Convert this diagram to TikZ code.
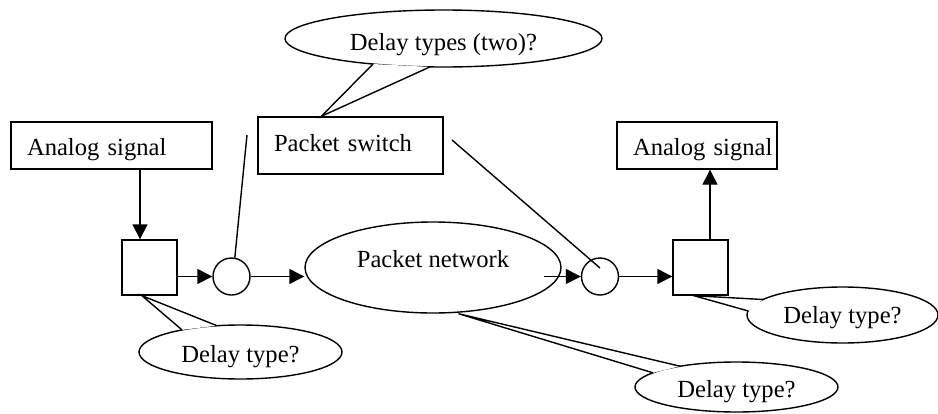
\documentclass[tikz,border=0pt]{standalone}
\usepackage{fontspec}
\setmainfont{Liberation Serif}
\usetikzlibrary{arrows.meta,shapes.geometric}

\tikzset{
  sigbox/.style={draw,inner xsep=0pt,text width=#1,align=left,minimum height=23.5pt,
    text height=12.8pt,text depth=2.65pt,execute at begin node={\hspace*{8pt}}},
  unit/.style={draw,minimum size=27.5pt,inner sep=0pt},
  hop/.style={circle,draw,minimum size=18.5pt,inner sep=0pt},
  bubble/.style={ellipse,draw,fill=white,inner sep=0pt,text depth=2.65pt}
}

\begin{document}
\begin{tikzpicture}[x=0.5pt,y=-0.5pt,line width=0.7pt,>={Triangle[length=7.5pt,width=7.5pt]},
  every node/.style={font=\fontsize{12.3}{14}\selectfont}]
  \useasboundingbox (0,0) rectangle (938,413);
  % boxes
  \node[sigbox=100.5pt] (siga) at (111.5,145.5) {Analog signal};
  \node[sigbox=92.5pt,minimum height=28.5pt,text height=8.3pt] (sw) at (350.5,145.5) {Packet switch};
  \node[sigbox=80pt] (sigb) at (697,145.5) {Analog signal};
  \node[unit] (sqa) at (149.5,267.5) {};
  \node[hop] (ca) at (231.5,276.5) {};
  \node[ellipse,draw,minimum width=128pt,minimum height=45.5pt,inner sep=0pt,
    text height=8.3pt,text depth=8.15pt] (net) at (433,267.5) {Packet network};
  \node[hop] (cb) at (600,276.5) {};
  \node[unit] (sqb) at (700.5,267.5) {};
  \coordinate (ina) at ([xshift=-4.75pt]sqa.north);
  \coordinate (outb) at ([xshift=4.75pt]sqb.north);
  \coordinate (netout) at (544,276.5);
  \coordinate (swin) at (247,135);
  \coordinate (swout) at (452,140);
  \coordinate (swend) at (600,268);
  % signal path
  \draw [->] (ina |- siga.south) -- (ina);
  \draw [->] (sqa.east |- ca) -- (ca.west);
  \draw [->] (ca.east) -- (ca -| net.west);
  \draw [->] (netout) -- (cb.west);
  \draw [->] (cb.east) -- (cb -| sqb.west);
  \draw [->] (outb) -- (outb |- sigb.south);
  \draw (ca.80) -- (swin);
  \draw (swout) -- (swend);
  % callouts
  \node[bubble,minimum width=158.5pt,minimum height=28.5pt,text height=14.8pt] (dtop) at (443.5,38.5) {Delay types (two)?};
  \coordinate (tiptop) at ([xshift=32pt]sw.north west);
  \coordinate (dtopa) at (373,64);
  \coordinate (dtopb) at (430,66.9);
  \draw [fill=white] (dtopa) -- (tiptop) -- (dtopb);
  \node[bubble,minimum width=101.5pt,minimum height=27pt,text height=13.3pt] (dsqa) at (240.5,352) {Delay type?};
  \coordinate (tipsqa) at ([xshift=-3.75pt]sqa.south);
  \coordinate (dsqaa) at (182,329.9);
  \coordinate (dsqab) at (217,325.7);
  \draw [fill=white] (dsqaa) -- (tipsqa) -- (dsqab);
  \node[bubble,minimum width=101.5pt,minimum height=25pt,text height=13.3pt] (dnet) at (736.5,387) {Delay type?};
  \coordinate (tipnet) at ([xshift=12.75pt]net.south);
  \coordinate (dneta) at (653,372.8);
  \coordinate (dnetb) at (680,366.2);
  \draw [fill=white] (dneta) -- (tipnet) -- (dnetb);
  \node[bubble,minimum width=95.5pt,minimum height=28pt,text height=11.3pt] (dsqb) at (842.5,315) {Delay type?};
  \coordinate (tipsqb) at ([xshift=-3.25pt]sqb.south);
  \coordinate (dsqba) at (748,310.9);
  \coordinate (dsqbb) at (763,299.5);
  \draw [fill=white] (dsqba) -- (tipsqb) -- (dsqbb);
\end{tikzpicture}
\end{document}
